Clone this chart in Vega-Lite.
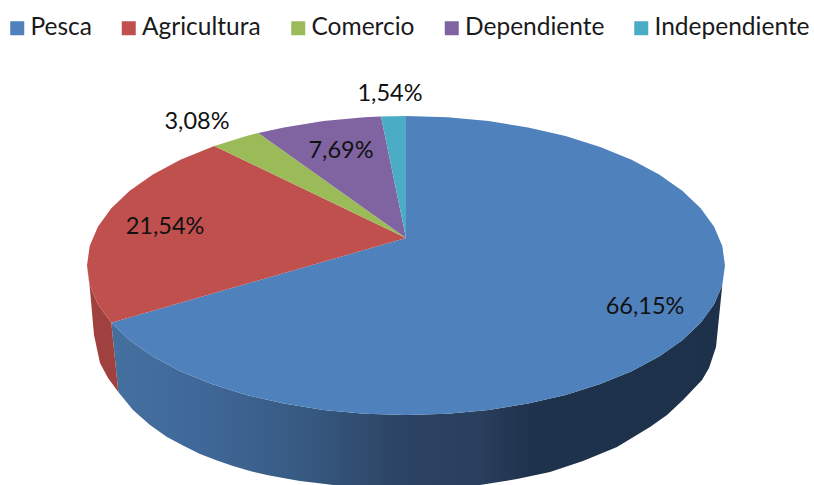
{
"$schema":"https://vega.github.io/schema/vega-lite/v6.json",
"width":814,"height":485,"autosize":"none","padding":0,"background":"white",
"config":{"view":{"stroke":null}},
"datasets":{
"blueSide":[
{"i":0,"x":722.3,"y":285},{"i":1,"x":714.1,"y":304.2},{"i":2,"x":700.7,"y":322.7},{"i":3,"x":682.3,"y":340.3},{"i":4,"x":659.1,"y":356.5},{"i":5,"x":631.6,"y":371.2},{"i":6,"x":600.2,"y":384.1},{"i":7,"x":565.5,"y":395},{"i":8,"x":528.1,"y":403.6},{"i":9,"x":488.6,"y":409.9},{"i":10,"x":447.6,"y":413.7},{"i":11,"x":406,"y":415},{"i":12,"x":364.4,"y":413.7},{"i":13,"x":323.4,"y":409.9},{"i":14,"x":283.9,"y":403.6},{"i":15,"x":246.5,"y":395},{"i":16,"x":211.8,"y":384.1},{"i":17,"x":180.4,"y":371.2},{"i":18,"x":152.9,"y":356.5},{"i":19,"x":129.7,"y":340.3},{"i":20,"x":111.3,"y":322.7},
{"i":21,"x":118.3,"y":392},{"i":22,"x":133,"y":410},{"i":23,"x":150,"y":425},{"i":24,"x":167,"y":437},{"i":25,"x":183,"y":445.5},{"i":26,"x":200,"y":454},{"i":27,"x":217,"y":460.5},{"i":28,"x":233,"y":466},{"i":29,"x":250,"y":471},{"i":30,"x":267,"y":475},{"i":31,"x":283,"y":478},{"i":32,"x":300,"y":481},{"i":33,"x":317,"y":483},{"i":34,"x":333,"y":485},{"i":35,"x":370,"y":488.5},{"i":36,"x":406,"y":489.5},{"i":37,"x":443,"y":488.5},{"i":38,"x":480,"y":485},{"i":39,"x":517,"y":479},{"i":40,"x":550,"y":472},{"i":41,"x":583,"y":461},{"i":42,"x":617,"y":447},{"i":43,"x":650,"y":427},{"i":44,"x":667,"y":415},{"i":45,"x":683,"y":400},{"i":46,"x":702,"y":380},{"i":47,"x":709,"y":368},{"i":48,"x":716,"y":347}
],
"redSide":[
{"i":0,"x":111.3,"y":322.7},{"i":1,"x":97.9,"y":304.2},{"i":2,"x":89.7,"y":285},{"i":3,"x":87,"y":265.5},{"i":4,"x":90,"y":290},{"i":5,"x":94,"y":335},{"i":6,"x":100,"y":363},{"i":7,"x":108,"y":378},{"i":8,"x":118.3,"y":392}
],
"slices":[
{"sector":"Pesca","share":66.15,"i":0,"x":406,"y":238},{"sector":"Pesca","share":66.15,"i":1,"x":406,"y":116},{"sector":"Pesca","share":66.15,"i":2,"x":447.6,"y":117.3},{"sector":"Pesca","share":66.15,"i":3,"x":488.6,"y":121.1},{"sector":"Pesca","share":66.15,"i":4,"x":528.1,"y":127.4},{"sector":"Pesca","share":66.15,"i":5,"x":565.5,"y":136},{"sector":"Pesca","share":66.15,"i":6,"x":600.2,"y":146.9},{"sector":"Pesca","share":66.15,"i":7,"x":631.6,"y":159.8},{"sector":"Pesca","share":66.15,"i":8,"x":659.1,"y":174.5},{"sector":"Pesca","share":66.15,"i":9,"x":682.3,"y":190.7},{"sector":"Pesca","share":66.15,"i":10,"x":700.7,"y":208.3},{"sector":"Pesca","share":66.15,"i":11,"x":714.1,"y":226.8},{"sector":"Pesca","share":66.15,"i":12,"x":722.3,"y":246},{"sector":"Pesca","share":66.15,"i":13,"x":725,"y":265.5},{"sector":"Pesca","share":66.15,"i":14,"x":722.3,"y":285},{"sector":"Pesca","share":66.15,"i":15,"x":714.1,"y":304.2},{"sector":"Pesca","share":66.15,"i":16,"x":700.7,"y":322.7},{"sector":"Pesca","share":66.15,"i":17,"x":682.3,"y":340.3},{"sector":"Pesca","share":66.15,"i":18,"x":659.1,"y":356.5},{"sector":"Pesca","share":66.15,"i":19,"x":631.6,"y":371.2},{"sector":"Pesca","share":66.15,"i":20,"x":600.2,"y":384.1},{"sector":"Pesca","share":66.15,"i":21,"x":565.5,"y":395},{"sector":"Pesca","share":66.15,"i":22,"x":528.1,"y":403.6},{"sector":"Pesca","share":66.15,"i":23,"x":488.6,"y":409.9},{"sector":"Pesca","share":66.15,"i":24,"x":447.6,"y":413.7},{"sector":"Pesca","share":66.15,"i":25,"x":406,"y":415},{"sector":"Pesca","share":66.15,"i":26,"x":364.4,"y":413.7},{"sector":"Pesca","share":66.15,"i":27,"x":323.4,"y":409.9},{"sector":"Pesca","share":66.15,"i":28,"x":283.9,"y":403.6},{"sector":"Pesca","share":66.15,"i":29,"x":246.5,"y":395},{"sector":"Pesca","share":66.15,"i":30,"x":211.8,"y":384.1},{"sector":"Pesca","share":66.15,"i":31,"x":180.4,"y":371.2},{"sector":"Pesca","share":66.15,"i":32,"x":152.9,"y":356.5},{"sector":"Pesca","share":66.15,"i":33,"x":129.7,"y":340.3},{"sector":"Pesca","share":66.15,"i":34,"x":111.3,"y":322.7},{"sector":"Pesca","share":66.15,"i":35,"x":406,"y":238},
{"sector":"Agricultura","share":21.54,"i":0,"x":406,"y":238},{"sector":"Agricultura","share":21.54,"i":1,"x":111.3,"y":322.7},{"sector":"Agricultura","share":21.54,"i":2,"x":97.9,"y":304.2},{"sector":"Agricultura","share":21.54,"i":3,"x":89.7,"y":285},{"sector":"Agricultura","share":21.54,"i":4,"x":87,"y":265.5},{"sector":"Agricultura","share":21.54,"i":5,"x":89.7,"y":246},{"sector":"Agricultura","share":21.54,"i":6,"x":97.9,"y":226.8},{"sector":"Agricultura","share":21.54,"i":7,"x":111.3,"y":208.3},{"sector":"Agricultura","share":21.54,"i":8,"x":129.7,"y":190.7},{"sector":"Agricultura","share":21.54,"i":9,"x":152.9,"y":174.5},{"sector":"Agricultura","share":21.54,"i":10,"x":180.4,"y":159.8},{"sector":"Agricultura","share":21.54,"i":11,"x":214.3,"y":146},{"sector":"Agricultura","share":21.54,"i":12,"x":406,"y":238},
{"sector":"Comercio","share":3.08,"i":0,"x":406,"y":238},{"sector":"Comercio","share":3.08,"i":1,"x":214.3,"y":146},{"sector":"Comercio","share":3.08,"i":2,"x":246.5,"y":136},{"sector":"Comercio","share":3.08,"i":3,"x":258.3,"y":133},{"sector":"Comercio","share":3.08,"i":4,"x":406,"y":238},
{"sector":"Dependiente","share":7.69,"i":0,"x":406,"y":238},{"sector":"Dependiente","share":7.69,"i":1,"x":258.3,"y":133},{"sector":"Dependiente","share":7.69,"i":2,"x":283.9,"y":127.4},{"sector":"Dependiente","share":7.69,"i":3,"x":323.4,"y":121.1},{"sector":"Dependiente","share":7.69,"i":4,"x":364.4,"y":117.3},{"sector":"Dependiente","share":7.69,"i":5,"x":381,"y":116.5},{"sector":"Dependiente","share":7.69,"i":6,"x":406,"y":238},
{"sector":"Independiente","share":1.54,"i":0,"x":406,"y":238},{"sector":"Independiente","share":1.54,"i":1,"x":381,"y":116.5},{"sector":"Independiente","share":1.54,"i":2,"x":406,"y":116},{"sector":"Independiente","share":1.54,"i":3,"x":406,"y":238}
],
"labels":[
{"sector":"Pesca","label":"66,15%","x":645,"y":307},
{"sector":"Agricultura","label":"21,54%","x":165,"y":227},
{"sector":"Comercio","label":"3,08%","x":197,"y":122},
{"sector":"Dependiente","label":"7,69%","x":341,"y":151},
{"sector":"Independiente","label":"1,54%","x":390,"y":94}
]
},
"layer":[
{"data":{"name":"blueSide"},
 "mark":{"type":"line","filled":true,"strokeWidth":0,"color":{"gradient":"linear","x1":0,"y1":0,"x2":1,"y2":0,"stops":[{"offset":0,"color":"#44709f"},{"offset":0.15,"color":"#3f6898"},{"offset":0.31,"color":"#375a82"},{"offset":0.47,"color":"#2c4465"},{"offset":0.6,"color":"#2a3f5e"},{"offset":0.69,"color":"#1f324b"},{"offset":1,"color":"#1e314a"}]}},
 "encoding":{"x":{"field":"x","type":"quantitative","scale":{"domain":[0,814],"nice":false,"zero":false},"axis":null},"y":{"field":"y","type":"quantitative","scale":{"domain":[485,0],"nice":false,"zero":false},"axis":null},"order":{"field":"i"}}},
{"data":{"name":"redSide"},
 "mark":{"type":"line","filled":true,"strokeWidth":0,"color":"#a0413f"},
 "encoding":{"x":{"field":"x","type":"quantitative","axis":null},"y":{"field":"y","type":"quantitative","axis":null},"order":{"field":"i"}}},
{"data":{"name":"slices"},
 "mark":{"type":"line","filled":true,"strokeWidth":0},
 "encoding":{"x":{"field":"x","type":"quantitative","axis":null},"y":{"field":"y","type":"quantitative","axis":null},"order":{"field":"i"},
  "color":{"field":"sector","type":"nominal","scale":{"domain":["Pesca","Agricultura","Comercio","Dependiente","Independiente"],"range":["#4f81bd","#bf504d","#9bbb59","#8064a2","#4bacc6"]},
   "legend":{"title":null,"orient":"none","legendX":5,"legendY":16,"direction":"horizontal","columns":5,"symbolType":"square","symbolSize":196,"symbolStrokeWidth":0,"labelFont":"Lato","labelFontSize":24.5,"labelColor":"#1a1a1a","labelLimit":300,"columnPadding":24.5,"labelOffset":1,"gridAlign":"none"}}}},
{"data":{"name":"labels"},
 "mark":{"type":"text","font":"Lato","fontSize":23.5,"color":"#111111","align":"center","baseline":"middle"},
 "encoding":{"x":{"field":"x","type":"quantitative","axis":null},"y":{"field":"y","type":"quantitative","axis":null},"text":{"field":"label"}}}
]
}
